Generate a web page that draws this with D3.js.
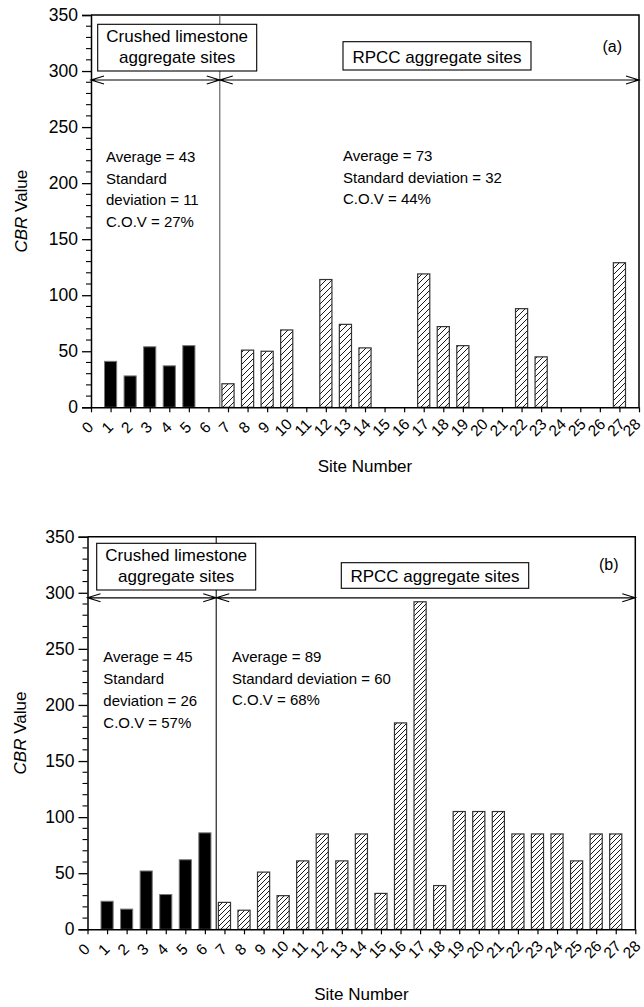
<!DOCTYPE html>
<html>
<head>
<meta charset="utf-8">
<script src="https://cdn.jsdelivr.net/npm/d3@7"></script>
<style>
  html, body { margin: 0; padding: 0; background: #fff; }
  svg { display: block; font-family: "Liberation Sans", Arial, sans-serif; }
</style>
</head>
<body>
<svg id="chart" width="644" height="1007"></svg>
<script>
// ---- Data ----------------------------------------------------------------
const xTickLabels = [0,1,2,3,4,5,6,7,8,9,10,11,12,13,14,15,16,17,18,19,20,21,22,23,24,25,26,27,28];
const yTickLabels = [0,50,100,150,200,250,300,350];

// Panel (a)
const limestoneSitesA = [1,2,3,4,5];
const limestoneCbrA   = [41,28,54,37,55];
const rpccSitesA      = [7,8,9,10,12,13,14,17,18,19,22,23,27];
const rpccCbrA        = [21,51,50,69,114,74,53,119,72,55,88,45,129];
const limestoneStatsA = ["Average = 43","Standard","deviation = 11","C.O.V = 27%"];
const rpccStatsA      = ["Average = 73","Standard deviation = 32","C.O.V = 44%"];

// Panel (b)
const limestoneSitesB = [1,2,3,4,5,6];
const limestoneCbrB   = [25,18,52,31,62,86];
const rpccSitesB      = [7,8,9,10,11,12,13,14,15,16,17,18,19,20,21,22,23,24,25,26,27];
const rpccCbrB        = [24,17,51,30,61,85,61,85,32,184,292,39,105,105,105,85,85,85,61,85,85];
const limestoneStatsB = ["Average = 45","Standard","deviation = 26","C.O.V = 57%"];
const rpccStatsB      = ["Average = 89","Standard deviation = 60","C.O.V = 68%"];

const groupLabels = [["Crushed limestone","aggregate sites"],["RPCC aggregate sites"]];
const boundarySite = 6.58;   // split between the two aggregate groups

// ---- Layout ----------------------------------------------------------------
const W = 644;
const panels = [
  { tag:"(a)", left:91, right:639, top:15, bottom:407.3, arrowY:292, hatch:6, divColor:"#666",
    limestone:{sites:limestoneSitesA, cbr:limestoneCbrA}, rpcc:{sites:rpccSitesA, cbr:rpccCbrA},
    statsL:limestoneStatsA, statsR:rpccStatsA,
    boxL:{x:6.7, y:9.3, w:159, h:46.7, b1:27.3, b2:48.3},
    boxR:{x:252, y:26.7, w:188, h:28.3, b:48.3},
    tagPos:{dx:26.7, y:37},
    statsLPos:{x:15, y:147, dy:21.5}, statsRPos:{x:252, y:146, dy:21.7},
    yTitleDx:70, xTitleDy:64.5 },
  { tag:"(b)", left:87.5, right:635.3, top:536.7, bottom:929.3, arrowY:295.5, hatch:5, divColor:"#222",
    limestone:{sites:limestoneSitesB, cbr:limestoneCbrB}, rpcc:{sites:rpccSitesB, cbr:rpccCbrB},
    statsL:limestoneStatsB, statsR:rpccStatsB,
    boxL:{x:9.2, y:6.6, w:159, h:46.7, b1:24.3, b2:45.6},
    boxR:{x:253.8, y:26, w:187.4, h:25.6, b:45.6},
    tagPos:{dx:26.5, y:33.3},
    statsLPos:{x:15.8, y:125.5, dy:21.8}, statsRPos:{x:144.5, y:125.5, dy:21.6},
    yTitleDx:68, xTitleDy:70.7 }
];

const svg = d3.select("#chart");
const defs = svg.append("defs");

panels.forEach((p, i) => {
  // diagonal hatch for the RPCC bars
  const s = p.hatch;
  const pat = defs.append("pattern")
    .attr("id", "hatch" + i)
    .attr("patternUnits", "userSpaceOnUse")
    .attr("width", s).attr("height", s);
  pat.append("rect").attr("width", s).attr("height", s).attr("fill", "#fff");
  pat.append("path")
    .attr("d", `M0,${s} L${s},0 M${-s/2},${s/2} L${s/2},${-s/2} M${s/2},${s*1.5} L${s*1.5},${s/2}`)
    .attr("stroke", "#000").attr("stroke-width", 0.9);

  const x = d3.scaleLinear().domain([0, 28]).range([p.left, p.right]);
  const y = d3.scaleLinear().domain([0, 350]).range([p.bottom, p.top]);
  const g = svg.append("g");
  const bw = (x(1) - x(0)) * 0.62;

  // bars
  const lime = p.limestone.sites.map((s, k) => ({site:s, v:p.limestone.cbr[k]}));
  const rpcc = p.rpcc.sites.map((s, k) => ({site:s, v:p.rpcc.cbr[k]}));
  g.selectAll(".lime").data(lime).join("rect")
    .attr("x", d => x(d.site) - bw/2).attr("width", bw)
    .attr("y", d => y(d.v)).attr("height", d => y(0) - y(d.v))
    .attr("fill", "#000").attr("stroke", "#777").attr("stroke-width", 1);
  g.selectAll(".rpcc").data(rpcc).join("rect")
    .attr("x", d => x(d.site) - bw/2).attr("width", bw)
    .attr("y", d => y(d.v)).attr("height", d => y(0) - y(d.v))
    .attr("fill", `url(#hatch${i})`).attr("stroke", "#333").attr("stroke-width", 1.2);

  // frame: top and right edges
  g.append("path")
    .attr("d", `M${p.left},${p.top} H${p.right} V${p.bottom}`)
    .attr("fill", "none").attr("stroke", "#000").attr("stroke-width", 1.5);

  // divider between aggregate groups
  g.append("line")
    .attr("x1", x(boundarySite)).attr("x2", x(boundarySite))
    .attr("y1", p.top).attr("y2", p.bottom)
    .attr("stroke", p.divColor).attr("stroke-width", 1.2);

  // double-headed range arrows
  const ay = y(p.arrowY);
  const head = (x0, dir) => `M${x0 + dir*13},${ay-4} L${x0},${ay} L${x0 + dir*13},${ay+4}`;
  const arrows = [[x(0), x(boundarySite)], [x(boundarySite), x(28)]];
  arrows.forEach(([a, b]) => {
    g.append("path")
      .attr("d", `M${a},${ay} H${b} ` + head(a, 1) + " " + head(b, -1))
      .attr("fill", "none").attr("stroke", "#000").attr("stroke-width", 1.1);
  });

  // group label boxes
  const bl = p.boxL;
  g.append("rect").attr("x", p.left + bl.x).attr("y", p.top + bl.y)
    .attr("width", bl.w).attr("height", bl.h)
    .attr("fill", "#fff").attr("stroke", "#000").attr("stroke-width", 1.1);
  [bl.b1, bl.b2].forEach((b, k) => {
    g.append("text").attr("x", p.left + bl.x + bl.w/2).attr("y", p.top + b)
      .attr("text-anchor", "middle").attr("font-size", 17).text(groupLabels[0][k]);
  });
  const br = p.boxR;
  g.append("rect").attr("x", p.left + br.x).attr("y", p.top + br.y)
    .attr("width", br.w).attr("height", br.h)
    .attr("fill", "#fff").attr("stroke", "#000").attr("stroke-width", 1.1);
  g.append("text").attr("x", p.left + br.x + br.w/2).attr("y", p.top + br.b)
    .attr("text-anchor", "middle").attr("font-size", 17).text(groupLabels[1][0]);

  // panel tag
  g.append("text").attr("x", p.right - p.tagPos.dx).attr("y", p.top + p.tagPos.y)
    .attr("text-anchor", "middle").attr("font-size", 16).text(p.tag);

  // statistics
  p.statsL.forEach((t, k) => {
    g.append("text").attr("x", p.left + p.statsLPos.x).attr("y", p.top + p.statsLPos.y + k*p.statsLPos.dy)
      .attr("font-size", 15).text(t);
  });
  p.statsR.forEach((t, k) => {
    g.append("text").attr("x", p.left + p.statsRPos.x).attr("y", p.top + p.statsRPos.y + k*p.statsRPos.dy)
      .attr("font-size", 15).text(t);
  });

  // y axis with minor ticks every 10
  const yMinor = d3.range(0, 351, 10).filter(v => v % 50 !== 0);
  const yAxis = g.append("g").attr("transform", `translate(${p.left},0)`)
    .call(d3.axisLeft(y).tickValues(yTickLabels).tickSize(9).tickPadding(4).tickFormat(d3.format("d")));
  yAxis.select(".domain").attr("stroke-width", 1.5);
  yAxis.selectAll(".tick line").attr("stroke-width", 1.3);
  yAxis.selectAll(".tick text").attr("font-size", 17.5).attr("font-family", "Liberation Sans, Arial, sans-serif").attr("fill", "#000");
  g.selectAll(".yminor").data(yMinor).join("line")
    .attr("x1", p.left - 5).attr("x2", p.left)
    .attr("y1", d => y(d)).attr("y2", d => y(d))
    .attr("stroke", "#000").attr("stroke-width", 1.1);

  // x axis, labels turned 45 degrees and kept inside the page
  const xAxis = g.append("g").attr("transform", `translate(0,${p.bottom})`)
    .call(d3.axisBottom(x).tickValues(xTickLabels).tickSize(5).tickSizeOuter(0).tickFormat(d3.format("d")));
  xAxis.select(".domain").attr("stroke-width", 1.5);
  xAxis.selectAll(".tick line").attr("stroke-width", 1.2);
  xAxis.selectAll(".tick text")
    .attr("font-size", 15.5).attr("font-family", "Liberation Sans, Arial, sans-serif").attr("fill", "#000")
    .attr("text-anchor", "middle").attr("dominant-baseline", "central")
    .attr("y", 0).attr("dy", null)
    .attr("transform", d => `translate(${Math.min(-4, W - 13 - x(d))},20) rotate(-45)`);

  // axis titles
  const yt = g.append("text")
    .attr("transform", `translate(${p.left - p.yTitleDx},${(p.top + p.bottom)/2}) rotate(-90)`)
    .attr("text-anchor", "middle").attr("dominant-baseline", "central").attr("font-size", 17);
  yt.append("tspan").attr("font-style", "italic").text("CBR");
  yt.append("tspan").text(" Value");
  g.append("text").attr("x", (p.left + p.right)/2).attr("y", p.bottom + p.xTitleDy)
    .attr("text-anchor", "middle").attr("font-size", 17).text("Site Number");
});
</script>
</body>
</html>
